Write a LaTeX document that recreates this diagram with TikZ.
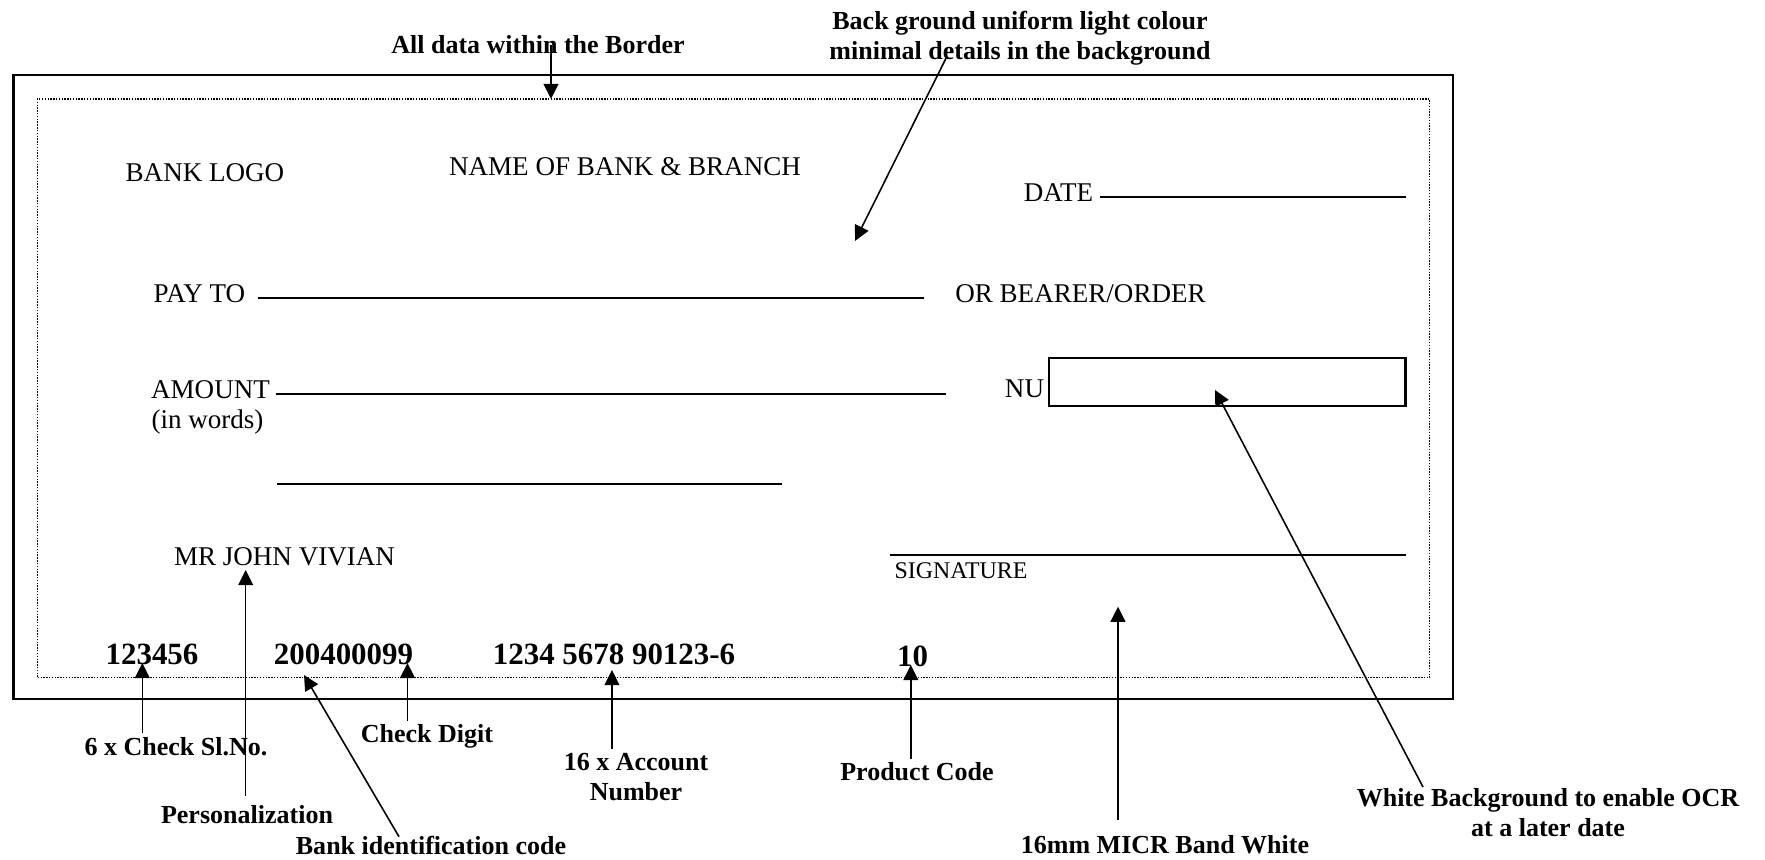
\documentclass[tikz,border=0pt]{standalone}
\usepackage{fontspec}
\setmainfont{Liberation Serif}
\usetikzlibrary{arrows.meta}

\tikzset{
  chqtext/.style={font=\fontsize{7.7}{9}\selectfont, inner sep=1pt},
  sigtext/.style={font=\fontsize{6.8}{8}\selectfont, inner sep=1pt},
  notetext/.style={font=\fontsize{7.4}{8.5}\selectfont\bfseries, inner sep=1pt, align=center},
  micrtext/.style={font=\fontsize{8.8}{10}\selectfont\bfseries, inner sep=1pt},
  pointer/.style={-{Triangle[length=4.3pt,width=4.2pt]}, line width=0.45pt},
  fillline/.style={line width=0.6pt}
}

\begin{document}
\begin{tikzpicture}[x=0.1mm, y=-0.1mm]
\useasboundingbox (0,0) rectangle (1765,860);
% cheque outline and data border
\draw [line width=0.6pt] (13.5,75.4) rectangle (1453,699);
\draw [line width=0.3pt, dash pattern=on 0.4pt off 0.4pt] (37.3,99) rectangle (1429.7,677.7);

% printed fields
\node [chqtext] (banklogo) at (205,173) {BANK LOGO};
\node [chqtext] (bankname) at (625,167) {NAME OF BANK \& BRANCH};
\node [chqtext] (date) at (1058.5,193) {DATE};
\draw [fillline] (1099.5,197) -- (1405.5,197);
\node [chqtext] (payto) at (199.5,294) {PAY TO};
\draw [fillline] (258,298) -- (924,298);
\node [chqtext] (bearer) at (1080.5,294) {OR BEARER/ORDER};
\node [chqtext] (amount) at (210.5,390) {AMOUNT};
\node [chqtext] (inwords) at (207.5,421.7) {(in words)};
\draw [fillline] (275.5,394) -- (945.6,394);
\draw [fillline] (276.7,484) -- (781.8,484);
\node [chqtext] (nu) at (1024.5,389) {NU};
\draw [fillline] (1048.7,358.3) rectangle (1405.5,406);
\draw [fillline] (890,555.3) -- (1405.5,555.3);
\node [sigtext] (signature) at (961,570.7) {SIGNATURE};
\node [chqtext] (payee) at (284.5,556.7) {MR JOHN VIVIAN};

% MICR line
\node [micrtext] (serial) at (152,654) {123456};
\node [micrtext] (bankcode) at (343.5,654) {200400099};
\node [micrtext] (account) at (614,654) {1234 5678 90123-6};
\node [micrtext] (product) at (912.5,656) {10};

% notes
\node [notetext] (alldata) at (538,45) {All data within the Border};
\node [notetext] (bground) at (1020,38) {Back ground uniform light colour\\minimal details in the background};
\node [notetext] (checksl) at (176,746.7) {6 x Check Sl.No.};
\node [notetext] (person) at (247,815) {Personalization};
\node [notetext] (bankid) at (431,845) {Bank identification code};
\node [notetext] (chkdigit) at (427,736.7) {Check Digit};
\node [notetext] (acctno) at (636,776.7) {16 x Account\\Number};
\node [notetext] (prodcode) at (917,772) {Product Code};
\node [notetext] (micrband) at (1165,845) {16mm MICR Band White};
\node [notetext] (ocr) at (1548,813) {White Background to enable OCR\\at a later date};

% arrow ends
\coordinate (bordertip) at (551,99);
\coordinate (bgtail) at (946.6,57);
\coordinate (bgtip) at (855,241);
\coordinate (ocrtail) at (1423,787);
\coordinate (ocrtip) at (1215,390);
\coordinate (serialtip) at (142.3,663);
\coordinate (payeetip) at (245.7,570);
\coordinate (personend) at (245.7,796);
\coordinate (codetail) at (399,836.7);
\coordinate (codetip) at (304,675);
\coordinate (digittip) at (407.5,663);
\coordinate (accttip) at (611.9,670);
\coordinate (prodtip) at (910.8,665);
\coordinate (bandtail) at (1118,820);
\coordinate (bandtip) at (1118,606.7);

% arrows
\draw [pointer] (alldata.center -| bordertip) -- (bordertip);
\draw [pointer] (bgtail) -- (bgtip);
\draw [pointer] (ocrtail) -- (ocrtip);
\draw [pointer] (checksl.north -| serialtip) -- (serialtip);
\draw [pointer] (personend) -- (payeetip);
\draw [pointer] (codetail) -- (codetip);
\draw [pointer] (chkdigit.north -| digittip) -- (digittip);
\draw [pointer] (acctno.north -| accttip) -- (accttip);
\draw [pointer] (prodcode.north -| prodtip) -- (prodtip);
\draw [pointer] (bandtail) -- (bandtip);
\end{tikzpicture}
\end{document}
